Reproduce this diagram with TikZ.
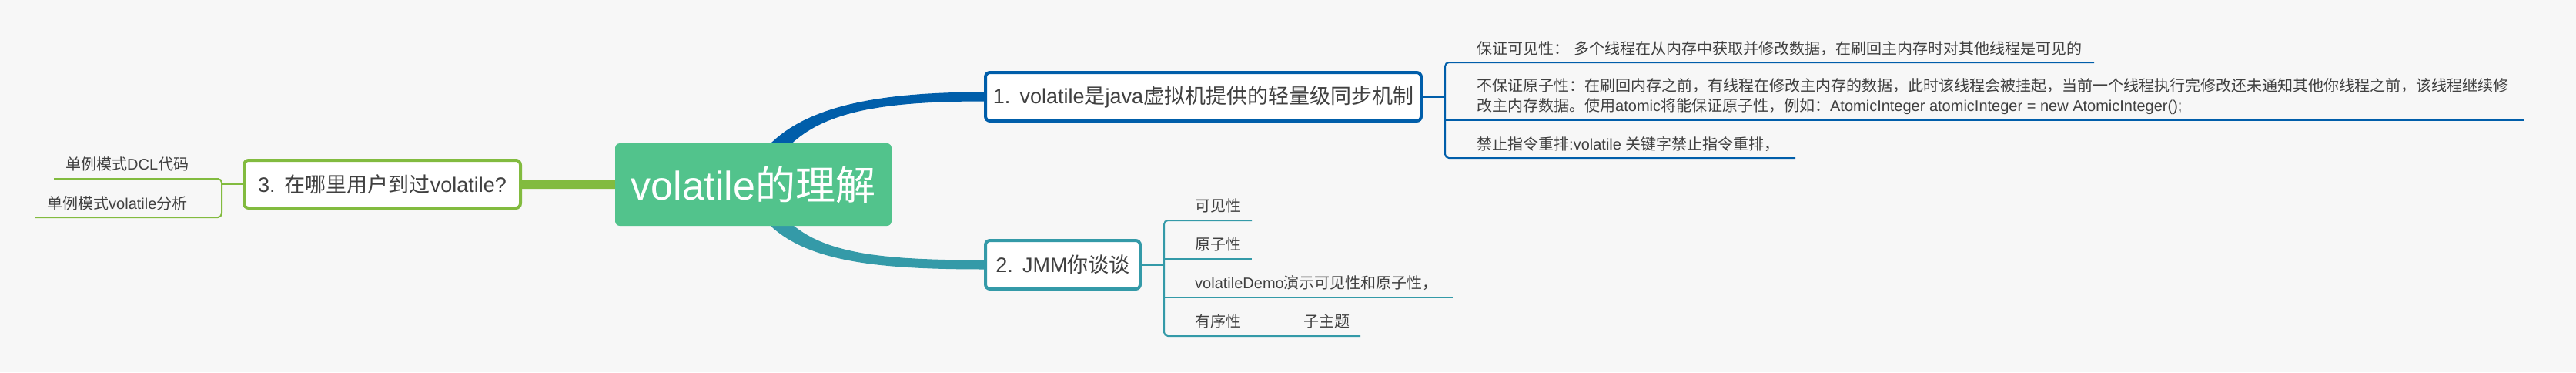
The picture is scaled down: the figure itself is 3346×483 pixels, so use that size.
\documentclass[tikz,border=0pt]{standalone}
\usepackage{fontspec}
\setmainfont{Noto Sans CJK SC}
\newfontfamily\lat{Liberation Sans}
\definecolor{bgc}{HTML}{F7F7F7}
\definecolor{cgreen}{HTML}{52C38C}
\definecolor{cblue}{HTML}{005EAA}
\definecolor{cteal}{HTML}{349AA8}
\definecolor{clime}{HTML}{82BB3F}
\definecolor{txt}{HTML}{404040}
\pgfdeclarelayer{back}
\pgfsetlayers{back,main}
\begin{document}
\begin{tikzpicture}[x=1pt,y=-1pt,
  mainbox/.style={rectangle, rounded corners=6pt, fill=white, line width=4pt, text=txt,
    font=\fontsize{27}{32}\selectfont, inner sep=0pt},
  leaf/.style={anchor=west, text=txt, font=\fontsize{20}{26}\selectfont, inner sep=0pt, align=left},
  thinline/.style={line width=2pt, rounded corners=5pt},
  branch/.style={line width=12pt},
]
% root and main topics
\node[fill=cgreen, rounded corners=6pt, minimum width=359pt, minimum height=107pt, inner sep=0pt,
  text=white, font=\fontsize{52}{60}\selectfont] (root) at (978.5,239.5) {{\lat volatile}的理解};
\node[mainbox, draw=cblue, minimum width=566pt, minimum height=63pt] (b1) at (1563,125.5)
  {{\lat 1.\hspace{0.45em}volatile}是{\lat java}虚拟机提供的轻量级同步机制};
\node[mainbox, draw=cteal, minimum width=201pt, minimum height=63pt] (b2) at (1380.5,343.5)
  {{\lat 2.\hspace{0.45em}JMM}你谈谈};
\node[mainbox, draw=clime, minimum width=359pt, minimum height=62pt] (b3) at (496.5,239)
  {{\lat 3.\hspace{0.45em}}在哪里用户到过{\lat volatile?}};

% leaves of topic 1
\node[leaf] (a1) at (1918,63) {保证可见性：\hspace{0.3em}多个线程在从内存中获取并修改数据，在刷回主内存时对其他线程是可见的};
\node[leaf] (a2) at (1918,125) {不保证原子性：在刷回内存之前，有线程在修改主内存的数据，此时该线程会被挂起，当前一个线程执行完修改还未通知其他你线程之前，该线程继续修\\改主内存数据。使用{\lat atomic}将能保证原子性，例如：{\lat AtomicInteger atomicInteger = new AtomicInteger();}};
\node[leaf] (a3) at (1918,187) {禁止指令重排{\lat :volatile }关键字禁止指令重排，};

% leaves of topic 2
\node[leaf] (c1) at (1552,267) {可见性};
\node[leaf] (c2) at (1552,317) {原子性};
\node[leaf] (c3) at (1552,367) {{\lat volatileDemo}演示可见性和原子性，};
\node[leaf] (c4) at (1552,417) {有序性};
\node[leaf] (c5) at (1693,417) {子主题};

% leaves of topic 3
\node[leaf] (d1) at (85,213) {单例模式{\lat DCL}代码};
\node[leaf] (d2) at (61,264) {单例模式{\lat volatile}分析};

% bracket spines and underline ends
\coordinate (s1) at (1877,125.5);
\coordinate (s2) at (1512,343.5);
\coordinate (s3) at (288,239);
\coordinate (e1) at (2720,81);
\coordinate (e2) at (3278,156);
\coordinate (e3) at (2332,205);
\coordinate (f1) at (1626,286);
\coordinate (f2) at (1626,336);
\coordinate (f3) at (1887,386);
\coordinate (f4) at (1767,436);
\coordinate (g1) at (70,232);
\coordinate (g2) at (46,282);

\begin{pgfonlayer}{back}
\fill[bgc] (0,0) rectangle (3346,483);
% tapered branches from the root to topics 1 and 2
\fill[cblue] ([xshift=-12pt]root.center) .. controls (1000,150) and (1100,119.5) .. ([yshift=6pt]b1.west)
  -- ([yshift=-6pt]b1.west) .. controls (1100,131.5) and (1030,156) .. ([xshift=12pt]root.center) -- cycle;
\fill[cteal] ([xshift=-12pt]root.center) .. controls (1000,333) and (1100,349.5) .. ([yshift=-6pt]b2.west)
  -- ([yshift=6pt]b2.west) .. controls (1100,337.5) and (1030,322) .. ([xshift=12pt]root.center) -- cycle;
\draw[branch, clime] (root.center) -- (b3.east);
\end{pgfonlayer}

% topic 1 connectors
\draw[thinline, cblue] (b1.east) -- (s1);
\draw[thinline, cblue] (e1) -- (e1 -| s1) -- (e3 -| s1) -- (e3);
\draw[thinline, cblue] (e2 -| s1) -- (e2);
% topic 2 connectors
\draw[thinline, cteal] (b2.east) -- (s2);
\draw[thinline, cteal] (f1) -- (f1 -| s2) -- (f4 -| s2) -- (f4);
\draw[thinline, cteal] (f2 -| s2) -- (f2);
\draw[thinline, cteal] (f3 -| s2) -- (f3);
% topic 3 connectors
\draw[thinline, clime] (b3.west) -- (s3);
\draw[thinline, clime] (g1) -- (g1 -| s3) -- (g2 -| s3) -- (g2);
\useasboundingbox (0,0) rectangle (3346,483);
\end{tikzpicture}
\end{document}
